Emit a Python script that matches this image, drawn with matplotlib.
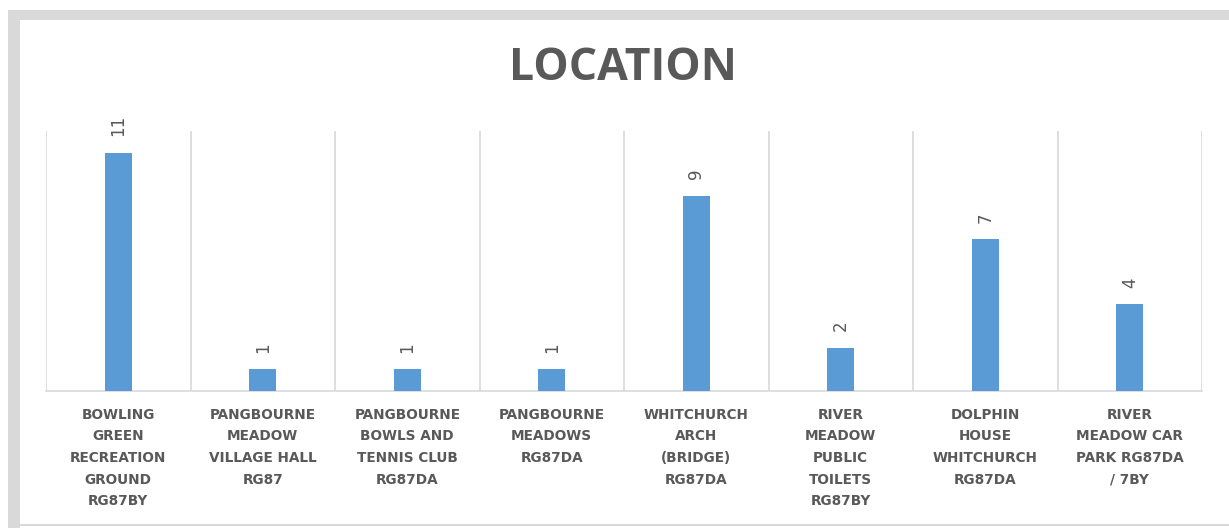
import matplotlib
matplotlib.use("Agg")
import matplotlib.pyplot as plt
import numpy as np
from matplotlib.patches import Rectangle

categories = [
    "BOWLING\nGREEN\nRECREATION\nGROUND\nRG87BY",
    "PANGBOURNE\nMEADOW\nVILLAGE HALL\nRG87",
    "PANGBOURNE\nBOWLS AND\nTENNIS CLUB\nRG87DA",
    "PANGBOURNE\nMEADOWS\nRG87DA",
    "WHITCHURCH\nARCH\n(BRIDGE)\nRG87DA",
    "RIVER\nMEADOW\nPUBLIC\nTOILETS\nRG87BY",
    "DOLPHIN\nHOUSE\nWHITCHURCH\nRG87DA",
    "RIVER\nMEADOW CAR\nPARK RG87DA\n/ 7BY",
]
values = [11, 1, 1, 1, 9, 2, 7, 4]
title = "LOCATION"

plt.rcParams['font.family'] = ['Open Sans', 'DejaVu Sans']
text_color = "#595959"
grid_color = "#d9d9d9"
bar_color = "#5b9bd5"

W, H = 1229, 528
fig = plt.figure(figsize=(W / 100, H / 100), dpi=100)
fig.patch.set_facecolor("white")

def px_rect(x0, y0, x1, y1, color):
    fig.patches.append(Rectangle((x0 / W, 1 - y1 / H), (x1 - x0) / W, (y1 - y0) / H,
                                 transform=fig.transFigure, facecolor=color,
                                 edgecolor="none", zorder=0))

px_rect(8, 10, W, 20, grid_color)
px_rect(8, 10, 20, 528, grid_color)
px_rect(20, 524, W, 526, grid_color)

ax = fig.add_axes([46 / W, 1 - 391 / H, (1202 - 46) / W, (391 - 131) / H])
x = np.arange(len(values))
ax.bar(x, values, width=0.19, color=bar_color, zorder=3)
ax.set_xlim(-0.5, len(values) - 0.5)
ax.set_ylim(0, 12)
ax.set_yticks([])
ax.set_xticks(x)
ax.set_xticklabels(categories, fontsize=9.8, fontweight="bold", color=text_color,
                   linespacing=1.7, va="top", family=["DejaVu Sans"])
ax.tick_params(axis="x", length=0, pad=12)
ax.set_xticks(np.arange(-0.5, len(values)), minor=True)
ax.tick_params(axis="x", which="minor", length=0)
ax.grid(axis="x", which="minor", color=grid_color, linewidth=1.2)
ax.grid(axis="x", which="major", visible=False)
for s in ["top", "left", "right"]:
    ax.spines[s].set_visible(False)
ax.spines["bottom"].set_color(grid_color)
ax.spines["bottom"].set_linewidth(1.2)

for xi, v in zip(x, values):
    ax.annotate(str(v), (xi, v), xytext=(0, 12), textcoords="offset points",
                rotation=90, ha="center", va="bottom", fontsize=12, color=text_color,
                family=["DejaVu Sans"])

fig.text(623 / W, 1 - 68 / H, title, fontsize=32, fontweight="bold", color=text_color,
         ha="center", va="center")

fig.savefig("out.png", dpi=100)
